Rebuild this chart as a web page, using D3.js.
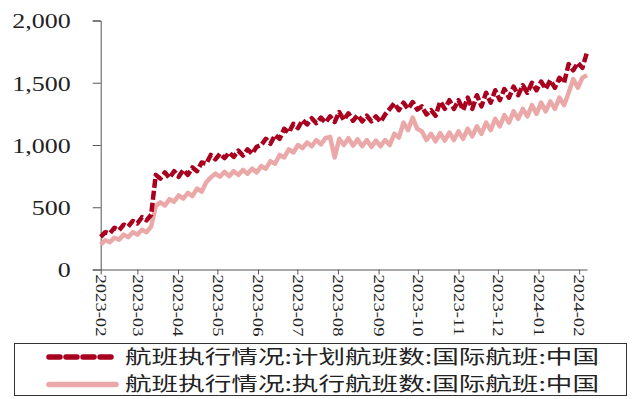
<!DOCTYPE html>
<html>
<head>
<meta charset="utf-8">
<script src="https://cdn.jsdelivr.net/npm/d3@7/dist/d3.min.js"></script>
<style>
  html, body { margin: 0; padding: 0; background: #fff; }
  svg { display: block; }
</style>
</head>
<body>
<svg id="chart" width="634" height="399"></svg>
<script>
// Half-weekly readings (every 3.5 days) starting 2023-02-01
const startDate = new Date(2023, 1, 1);
const stepHours = 84;

// 航班执行情况:计划航班数:国际航班:中国
const plannedFlights = [
  262, 300, 290, 335, 315, 360, 345, 390, 370, 420, 395, 440,
  760, 730, 780, 735, 790, 745,
  800, 760, 820, 790, 860, 850, 920, 885,
  930, 895, 940, 905, 955, 915, 965, 930, 985,
  1000, 1050, 1010, 1080, 1050, 1130, 1100, 1170, 1135,
  1200, 1165, 1215, 1175, 1220, 1180, 1230, 1185,
  1265, 1200, 1255, 1195, 1240, 1190, 1235, 1190, 1230,
  1185, 1245, 1290, 1335, 1280, 1340, 1290, 1345, 1285,
  1310, 1245, 1280, 1235, 1350, 1290, 1360, 1290,
  1360, 1280, 1380, 1290, 1400, 1310, 1420, 1340, 1440,
  1360, 1450, 1380, 1470, 1400, 1480, 1420, 1500, 1440,
  1510, 1450, 1520, 1460, 1540, 1500, 1650, 1600, 1660, 1620, 1745
];

// 航班执行情况:执行航班数:国际航班:中国
const executedFlights = [
  200, 235, 220, 255, 240, 280, 260, 300, 280, 320, 300, 345,
  510, 540, 515, 565, 545, 595,
  570, 615, 590, 650, 625, 700, 740, 770,
  745, 785, 750, 790, 760, 800, 770, 810, 780,
  830, 810, 870, 850, 920, 900, 965, 940, 1000,
  975, 1020, 990, 1040, 1005, 1055, 1065, 900,
  1050, 1000, 1055, 995, 1045, 990, 1040, 985, 1035,
  990, 1040, 1000, 1090, 1060, 1180, 1120, 1220, 1130,
  1110, 1040, 1090, 1030, 1095, 1035, 1100, 1040,
  1110, 1050, 1130, 1070, 1150, 1090, 1180, 1120, 1210,
  1150, 1240, 1180, 1270, 1210, 1290, 1230, 1320, 1250,
  1340, 1270, 1350, 1290, 1380, 1320, 1420, 1530, 1460, 1540, 1560
];

const yTicks = [0, 500, 1000, 1500, 2000];
const legendLabels = [
  "航班执行情况:计划航班数:国际航班:中国",
  "航班执行情况:执行航班数:国际航班:中国"
];

const colors = { planned: "#A8001E", executed: "#EBA8A8", axis: "#555", text: "#222" };

const dates = plannedFlights.map((_, i) => d3.timeHour.offset(startDate, i * stepHours));

const svg = d3.select("#chart");

const x = d3.scaleTime()
  .domain([new Date(2023, 1, 1), new Date(2024, 1, 7)])
  .range([100.7, 587]);
const y = d3.scaleLinear().domain([0, 2000]).range([269.5, 20.5]);

// Y axis
const yAxis = svg.append("g")
  .attr("transform", `translate(${x.range()[0]},0)`)
  .call(d3.axisLeft(y).tickValues(yTicks).tickFormat(d3.format(",")).tickSize(8).tickPadding(22));
yAxis.select(".domain").attr("stroke", colors.axis);
yAxis.selectAll(".tick line").attr("stroke", colors.axis);
yAxis.selectAll(".tick text")
  .attr("font-family", "'Liberation Serif', 'Times New Roman', serif")
  .attr("font-size", 22)
  .attr("fill", colors.text)
  .attr("x", -30 / 1.18)
  .attr("dy", "0.34em")
  .attr("transform", "scale(1.18,1)");

// Series lines
const line = d3.line()
  .x((d, i) => x(dates[i]))
  .y(d => y(d));

svg.append("path")
  .datum(executedFlights)
  .attr("d", line)
  .attr("fill", "none")
  .attr("stroke", colors.executed)
  .attr("stroke-width", 4.5)
  .attr("stroke-linejoin", "round");

svg.append("path")
  .datum(plannedFlights)
  .attr("d", line)
  .attr("fill", "none")
  .attr("stroke", colors.planned)
  .attr("stroke-width", 4.5)
  .attr("stroke-linejoin", "round")
  .attr("stroke-dasharray", "9,3");

// X axis (drawn over the series so the baseline stays visible)
const xAxis = svg.append("g")
  .attr("transform", `translate(0,${y(0)})`)
  .call(d3.axisBottom(x).ticks(d3.timeMonth.every(1)).tickFormat(d3.timeFormat("%Y-%m")).tickSize(5).tickSizeOuter(0));
xAxis.select(".domain").attr("stroke", colors.axis);
xAxis.selectAll(".tick line").attr("stroke", colors.axis);
xAxis.selectAll(".tick text")
  .attr("font-family", "'Liberation Serif', 'Times New Roman', serif")
  .attr("font-size", 15.5)
  .attr("fill", colors.text)
  .attr("x", 0).attr("y", 0).attr("dy", "0.34em")
  .attr("text-anchor", "start")
  .attr("transform", "translate(0,5) rotate(90) scale(1.2,1)");

// Legend
const legend = svg.append("g");
legend.append("rect")
  .attr("x", 14.5).attr("y", 343.5)
  .attr("width", 612).attr("height", 52)
  .attr("fill", "#fff")
  .attr("stroke", "#333").attr("stroke-width", 1);

const rows = [
  { label: legendLabels[0], color: colors.planned, dash: "11,6", cy: 357 },
  { label: legendLabels[1], color: colors.executed, dash: null, cy: 384.5 }
];
rows.forEach(r => {
  legend.append("line")
    .attr("x1", 49).attr("x2", 116)
    .attr("y1", r.cy).attr("y2", r.cy)
    .attr("stroke", r.color)
    .attr("stroke-width", 5.5)
    .attr("stroke-linecap", "round")
    .attr("stroke-dasharray", r.dash);
  legend.append("text")
    .attr("x", 125).attr("y", r.cy)
    .attr("dy", "0.36em")
    .attr("font-family", "'Noto Sans CJK SC', sans-serif")
    .attr("font-size", 19)
    .attr("fill", colors.text)
    .attr("textLength", 474)
    .attr("lengthAdjust", "spacingAndGlyphs")
    .text(r.label);
});
</script>
</body>
</html>
